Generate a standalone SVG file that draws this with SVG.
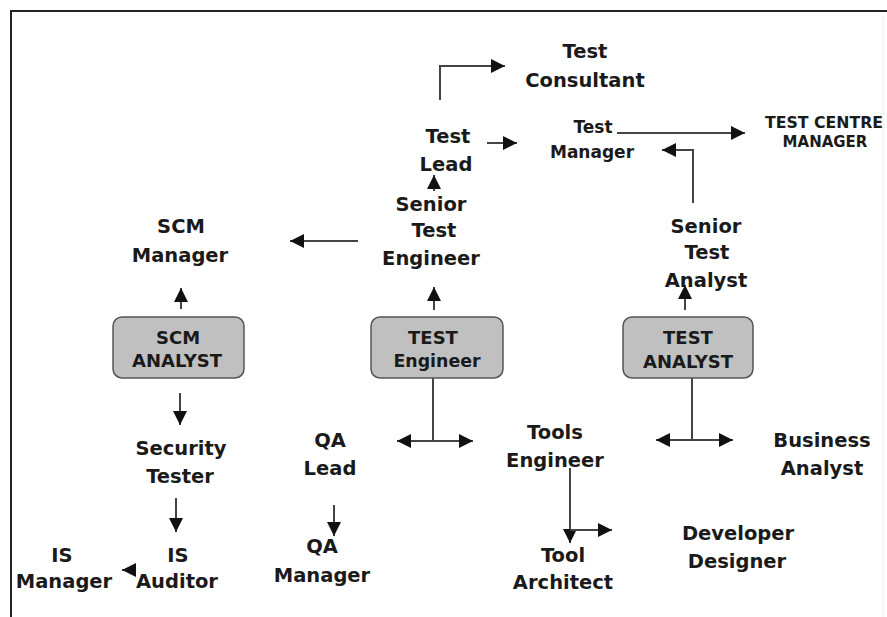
<svg xmlns="http://www.w3.org/2000/svg" width="887" height="617" viewBox="0 0 887 617">
<defs>
<marker id="ah" viewBox="0 0 14 14" refX="14" refY="7" markerWidth="14" markerHeight="14" orient="auto" markerUnits="userSpaceOnUse">
<path d="M0,0 L14,7 L0,14 z" fill="#111"/>
</marker>
</defs>
<style>
text{font-family:"DejaVu Sans","Verdana",sans-serif;font-weight:bold;fill:#1a1a1a;text-anchor:middle;font-size:19.5px}
.sm{font-size:17px}
.xs{font-size:15px}
.bx{font-size:18px}
.box{fill:#c0c0c0;stroke:#555;stroke-width:1.5}
.c{fill:none;stroke:#444;stroke-width:2}
.a{marker-end:url(#ah)}
</style>
<rect width="887" height="617" fill="#fff"/>
<line x1="11" y1="11" x2="887" y2="11" stroke="#222" stroke-width="2"/>
<line x1="11" y1="10" x2="11" y2="617" stroke="#222" stroke-width="2"/>
<line x1="883" y1="14" x2="883" y2="617" stroke="#eee" stroke-width="1"/>

<g id="connectors">
<polyline class="c a" points="440,100 440,66 505,66"/>
<line class="c a" x1="487" y1="143" x2="517" y2="143"/>
<line class="c a" x1="434" y1="191" x2="434" y2="175"/>
<line class="c a" x1="434" y1="310" x2="434" y2="287"/>
<line class="c a" x1="358" y1="241" x2="290" y2="241"/>
<line class="c a" x1="181" y1="309" x2="181" y2="288"/>
<line class="c a" x1="180" y1="393" x2="180" y2="425"/>
<line class="c a" x1="176" y1="498" x2="176" y2="532"/>
<line class="c a" x1="135" y1="570" x2="122" y2="570"/>
<line class="c" x1="433" y1="378" x2="433" y2="441"/>
<line class="c a" x1="433" y1="441" x2="397" y2="441"/>
<line class="c a" x1="433" y1="441" x2="473" y2="441"/>
<line class="c a" x1="334" y1="505" x2="334" y2="536"/>
<line class="c a" x1="570" y1="468" x2="570" y2="543"/>
<line class="c a" x1="570" y1="530" x2="612" y2="530"/>
<line class="c a" x1="685" y1="310" x2="685" y2="285"/>
<line class="c" x1="692" y1="378" x2="692" y2="440"/>
<line class="c a" x1="692" y1="440" x2="656" y2="440"/>
<line class="c a" x1="692" y1="440" x2="733" y2="440"/>
<polyline class="c a" points="693,203 693,150 662,150"/>
<line class="c a" x1="617" y1="133" x2="745" y2="133"/>
</g>

<g id="test-consultant"><text x="585" y="58">Test</text><text x="585" y="87">Consultant</text></g>
<g id="test-lead"><text x="448" y="143">Test</text><text x="446" y="171">Lead</text></g>
<g id="senior-test-engineer"><text x="431" y="211">Senior</text><text x="434" y="237">Test</text><text x="431" y="265">Engineer</text></g>
<g id="test-manager"><text class="sm" x="593" y="133">Test</text><text class="sm" x="592" y="158">Manager</text></g>
<g id="test-centre-manager"><text class="xs" x="824" y="128" textLength="118" lengthAdjust="spacingAndGlyphs">TEST CENTRE</text><text class="xs" x="825" y="147">MANAGER</text></g>
<g id="scm-manager"><text x="181" y="233">SCM</text><text x="180" y="262">Manager</text></g>
<g id="senior-test-analyst"><text x="706" y="233">Senior</text><text x="707" y="259">Test</text><text x="706" y="287">Analyst</text></g>

<g id="scm-analyst"><rect class="box" x="113" y="317" width="131" height="61" rx="9"/><text class="bx" x="178" y="344">SCM</text><text class="bx" x="177" y="367">ANALYST</text></g>
<g id="test-engineer"><rect class="box" x="371" y="317" width="132" height="61" rx="9"/><text class="bx" x="433" y="344">TEST</text><text class="bx" x="437" y="367" textLength="87" lengthAdjust="spacingAndGlyphs">Engineer</text></g>
<g id="test-analyst"><rect class="box" x="623" y="317" width="130" height="61" rx="9"/><text class="bx" x="688" y="344">TEST</text><text class="bx" x="688" y="368">ANALYST</text></g>

<g id="security-tester"><text x="181" y="455">Security</text><text x="180" y="483">Tester</text></g>
<g id="qa-lead"><text x="330" y="447">QA</text><text x="330" y="475">Lead</text></g>
<g id="tools-engineer"><text x="555" y="439">Tools</text><text x="555" y="467">Engineer</text></g>
<g id="business-analyst"><text x="822" y="447">Business</text><text x="822" y="475">Analyst</text></g>
<g id="developer-designer"><text x="738" y="540">Developer</text><text x="737" y="568">Designer</text></g>
<g id="tool-architect"><text x="563" y="562">Tool</text><text x="563" y="589">Architect</text></g>
<g id="is-manager"><text x="62" y="562">IS</text><text x="64" y="588">Manager</text></g>
<g id="is-auditor"><text x="178" y="562">IS</text><text x="177" y="588">Auditor</text></g>
<g id="qa-manager"><text x="322" y="553">QA</text><text x="322" y="582">Manager</text></g>
</svg>
